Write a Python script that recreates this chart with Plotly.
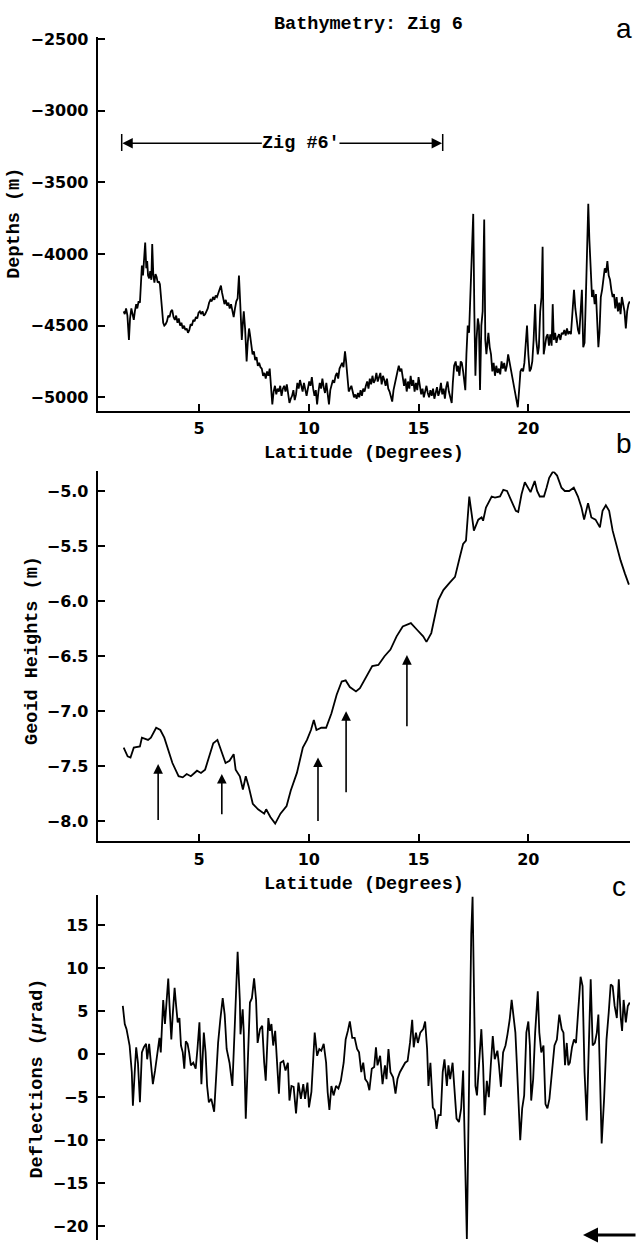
import plotly.graph_objects as go

# ---------------- data ----------------
bathy_lat = [
    1.57, 1.62, 1.68, 1.74, 1.81, 1.86, 1.92, 1.97, 2.03, 2.08,
    2.14, 2.19, 2.25, 2.31, 2.36, 2.40, 2.45, 2.50, 2.55, 2.60,
    2.64, 2.68, 2.73, 2.78, 2.83, 2.87, 2.92, 2.97, 3.02, 3.07,
    3.12, 3.17, 3.22, 3.27, 3.32, 3.37, 3.42, 3.48, 3.54, 3.60,
    3.66, 3.72, 3.78, 3.84, 3.90, 3.96, 4.02, 4.08, 4.14, 4.20,
    4.26, 4.32, 4.38, 4.44, 4.50, 4.56, 4.62, 4.68, 4.74, 4.80,
    4.86, 4.92, 4.98, 5.04, 5.10, 5.16, 5.22, 5.28, 5.34, 5.40,
    5.46, 5.52, 5.58, 5.64, 5.70, 5.76, 5.82, 5.88, 5.94, 6.00,
    6.05, 6.10, 6.16, 6.22, 6.28, 6.34, 6.40, 6.46, 6.52, 6.58,
    6.64, 6.70, 6.76, 6.82, 6.88, 6.95, 7.00, 7.04, 7.10, 7.17,
    7.22, 7.28, 7.32, 7.38, 7.44, 7.50, 7.56, 7.62, 7.68, 7.74,
    7.80, 7.86, 7.92, 7.98, 8.04, 8.10, 8.16, 8.22, 8.28, 8.34,
    8.40, 8.46, 8.52, 8.58, 8.64, 8.70, 8.76, 8.82, 8.88, 8.94,
    9.00, 9.06, 9.12, 9.18, 9.24, 9.30, 9.36, 9.42, 9.48, 9.54,
    9.60, 9.66, 9.72, 9.78, 9.84, 9.90, 9.96, 10.02, 10.08, 10.14,
    10.20, 10.26, 10.32, 10.38, 10.44, 10.50, 10.56, 10.62, 10.68, 10.74,
    10.80, 10.86, 10.92, 10.98, 11.04, 11.10, 11.16, 11.22, 11.28, 11.34,
    11.40, 11.46, 11.52, 11.58, 11.65, 11.70, 11.76, 11.82, 11.88, 11.94,
    12.00, 12.06, 12.12, 12.18, 12.24, 12.30, 12.36, 12.42, 12.48, 12.54,
    12.60, 12.66, 12.72, 12.78, 12.84, 12.90, 12.96, 13.02, 13.08, 13.14,
    13.20, 13.26, 13.32, 13.38, 13.44, 13.50, 13.56, 13.62, 13.68, 13.74,
    13.80, 13.86, 13.92, 13.98, 14.04, 14.10, 14.16, 14.22, 14.28, 14.34,
    14.40, 14.46, 14.52, 14.58, 14.64, 14.70, 14.76, 14.82, 14.88, 14.94,
    15.00, 15.06, 15.12, 15.18, 15.24, 15.30, 15.36, 15.42, 15.48, 15.54,
    15.60, 15.66, 15.72, 15.78, 15.84, 15.90, 15.96, 16.02, 16.08, 16.14,
    16.20, 16.26, 16.32, 16.38, 16.44, 16.51, 16.56, 16.62, 16.69, 16.75,
    16.80, 16.86, 16.92, 16.97, 17.03, 17.08, 17.13, 17.18, 17.24, 17.30,
    17.36, 17.42, 17.49, 17.54, 17.59, 17.64, 17.70, 17.75, 17.80, 17.86,
    17.92, 17.99, 18.04, 18.09, 18.14, 18.18, 18.24, 18.30, 18.36, 18.42,
    18.48, 18.54, 18.60, 18.66, 18.72, 18.78, 18.84, 18.90, 18.96, 19.02,
    19.08, 19.14, 19.20, 19.26, 19.32, 19.38, 19.44, 19.52, 19.58, 19.64,
    19.70, 19.76, 19.82, 19.88, 19.94, 20.00, 20.06, 20.12, 20.18, 20.24,
    20.31, 20.36, 20.43, 20.48, 20.54, 20.60, 20.65, 20.70, 20.76, 20.82,
    20.88, 20.94, 21.00, 21.06, 21.11, 21.16, 21.22, 21.28, 21.34, 21.40,
    21.46, 21.52, 21.58, 21.64, 21.70, 21.76, 21.82, 21.88, 21.94, 22.00,
    22.08, 22.14, 22.20, 22.26, 22.32, 22.38, 22.44, 22.50, 22.56, 22.62,
    22.68, 22.73, 22.78, 22.84, 22.90, 22.96, 23.02, 23.08, 23.14, 23.19,
    23.24, 23.30, 23.36, 23.42, 23.48, 23.54, 23.60, 23.66, 23.72, 23.78,
    23.84, 23.90, 23.96, 24.02, 24.08, 24.14, 24.20, 24.26, 24.32, 24.38,
    24.44, 24.50, 24.56, 24.62,
]
bathy_depth = [
    -4400, -4420, -4380, -4430, -4600, -4450, -4380, -4420, -4460, -4400,
    -4350, -4380, -4330, -4340, -4180, -4080, -4150, -4000, -3920, -4100,
    -4050, -4150, -4170, -4120, -4180, -3930, -4150, -4200, -4140, -4160,
    -4200, -4190, -4210, -4300, -4370, -4480, -4500, -4490, -4470, -4430,
    -4440, -4400, -4390, -4440, -4460, -4430, -4480, -4450, -4500, -4480,
    -4520, -4500, -4530, -4520, -4550, -4530, -4490, -4500, -4460, -4470,
    -4440, -4450, -4410, -4400, -4420, -4400, -4430, -4420, -4400, -4380,
    -4340, -4320, -4330, -4300, -4320, -4290, -4300, -4270, -4250, -4220,
    -4270, -4300, -4350, -4320, -4360, -4340, -4380, -4350, -4400, -4440,
    -4380, -4330, -4310, -4150, -4350, -4600, -4480, -4400, -4520, -4750,
    -4620, -4520, -4560, -4620, -4700, -4680, -4740, -4720, -4780, -4760,
    -4790, -4800, -4850, -4830, -4870, -4820, -4850, -4800, -4900, -5050,
    -4960, -4920, -4980, -4940, -4960, -4920, -4990, -4940, -4920, -4960,
    -4910, -4980, -5040, -5010, -4990, -4950, -5020, -4980, -4900, -4940,
    -4880, -4920, -4960, -4900, -4950, -4990, -4940, -4890, -4920, -4860,
    -4940, -4990, -4950, -5050, -4960, -4900, -4940, -4870, -4930, -4970,
    -4900, -4960, -5050, -4950, -4920, -4880, -4900, -4850, -4830, -4870,
    -4800, -4780, -4760, -4790, -4680, -4750, -4880, -4960, -4940, -4920,
    -4960, -5000, -4980, -5010, -4970, -5000, -4950, -4990, -4940, -4960,
    -4920, -4890, -4940, -4870, -4910, -4850, -4900, -4880, -4830, -4890,
    -4860, -4830, -4910, -4850, -4880, -4920, -4870, -4940, -4960, -4990,
    -5030, -4950, -4900, -4870, -4820, -4780, -4820, -4800, -4880, -4920,
    -4870, -4960, -4890, -4940, -4850, -4920, -4880, -4960, -4900, -4950,
    -4860, -4920, -4980, -4940, -5000, -4960, -4920, -4970, -5000, -4950,
    -4990, -4940, -5010, -4970, -4930, -4990, -4960, -4900, -4980, -4940,
    -5010, -4930, -4890, -4960, -5000, -5040, -4900, -4780, -4750, -4820,
    -4780, -4850, -4750, -4760, -4820, -4870, -4950, -4700, -4500, -4550,
    -4300, -4000, -3720, -4400, -4850, -4600, -4450, -4500, -4950, -4500,
    -4400, -3760, -4600, -4700, -4620, -4550, -4650, -4700, -4820, -4760,
    -4850, -4780, -4830, -4800, -4840, -4750, -4800, -4760, -4820, -4780,
    -4700, -4750, -4820, -4850, -4920, -4960, -5000, -5070, -4950, -4820,
    -4800, -4820, -4760, -4650, -4500, -4700, -4820, -4800, -4750, -4600,
    -4350, -4600, -4700, -4650, -4400, -4300, -3950, -4700, -4620, -4580,
    -4560, -4640, -4560, -4640, -4350, -4600, -4550, -4620, -4580, -4560,
    -4600, -4550, -4560, -4530, -4570, -4520, -4560, -4540, -4560, -4450,
    -4250, -4380, -4480, -4530, -4560, -4420, -4250, -4650, -4620, -4300,
    -4000, -3650, -3900, -4150, -4300, -4250, -4350, -4280, -4450, -4650,
    -4550, -4300, -4250, -4150, -4100, -4130, -4050, -4150, -4180, -4250,
    -4300, -4280, -4380, -4300, -4400, -4340, -4420, -4300, -4350, -4400,
    -4520, -4400, -4350, -4330,
]

geoid_lat = [
    1.57, 1.75, 1.88, 2.03, 2.31, 2.40, 2.68, 2.81, 3.05, 3.24,
    3.42, 3.66, 3.79, 4.07, 4.26, 4.44, 4.63, 4.91, 5.09, 5.28,
    5.46, 5.65, 5.84, 6.02, 6.21, 6.39, 6.58, 6.67, 6.86, 7.00,
    7.13, 7.26, 7.45, 7.69, 7.97, 8.06, 8.25, 8.47, 8.71, 8.99,
    9.18, 9.46, 9.73, 9.92, 10.10, 10.23, 10.35, 10.57, 10.79, 11.03,
    11.27, 11.50, 11.68, 11.87, 12.15, 12.33, 12.61, 12.89, 13.17, 13.45,
    13.72, 14.00, 14.28, 14.65, 14.93, 15.21, 15.36, 15.58, 15.90, 16.13,
    16.43, 16.66, 16.88, 17.03, 17.16, 17.31, 17.42, 17.52, 17.72, 17.87,
    17.94, 18.07, 18.33, 18.48, 18.71, 18.86, 19.03, 19.24, 19.43, 19.54,
    19.69, 19.84, 19.99, 20.10, 20.29, 20.40, 20.52, 20.71, 20.83, 20.95,
    21.13, 21.31, 21.51, 21.66, 21.86, 22.07, 22.26, 22.42, 22.54, 22.72,
    22.87, 23.06, 23.26, 23.38, 23.53, 23.68, 23.84, 24.02, 24.20, 24.40,
    24.58,
]
geoid_h = [
    -7.33, -7.41, -7.42, -7.33, -7.32, -7.24, -7.26, -7.24, -7.15, -7.17,
    -7.24, -7.39, -7.47, -7.59, -7.60, -7.57, -7.59, -7.54, -7.56, -7.53,
    -7.42, -7.29, -7.26, -7.36, -7.47, -7.45, -7.39, -7.53, -7.59, -7.71,
    -7.59, -7.68, -7.84, -7.89, -7.93, -7.89, -7.96, -8.02, -7.93, -7.86,
    -7.72, -7.56, -7.33, -7.26, -7.17, -7.08, -7.17, -7.15, -7.15, -7.02,
    -6.85, -6.73, -6.72, -6.78, -6.82, -6.79, -6.69, -6.59, -6.58, -6.50,
    -6.44, -6.32, -6.23, -6.20, -6.26, -6.32, -6.37, -6.29, -5.99, -5.90,
    -5.83, -5.78, -5.60, -5.48, -5.45, -5.05, -5.21, -5.36, -5.26, -5.24,
    -5.27, -5.15, -5.05, -5.06, -5.05, -4.99, -5.00, -5.09, -5.18, -5.19,
    -5.03, -4.92, -4.97, -5.01, -4.91, -5.00, -5.05, -5.05, -4.97, -4.88,
    -4.82, -4.86, -4.97, -5.00, -5.00, -4.97, -5.05, -5.15, -5.26, -5.11,
    -5.24, -5.26, -5.33, -5.18, -5.13, -5.18, -5.36, -5.50, -5.63, -5.75,
    -5.85,
]

defl_lat = [
    1.53, 1.62, 1.70, 1.77, 1.84, 1.94, 1.99, 2.09, 2.14, 2.22,
    2.31, 2.40, 2.49, 2.59, 2.64, 2.73, 2.81, 2.90, 3.00, 3.11,
    3.20, 3.26, 3.37, 3.45, 3.52, 3.60, 3.66, 3.74, 3.81, 3.89,
    3.96, 4.03, 4.11, 4.18, 4.26, 4.33, 4.40, 4.48, 4.55, 4.63,
    4.74, 4.85, 4.93, 5.02, 5.11, 5.22, 5.30, 5.37, 5.45, 5.56,
    5.69, 5.76, 5.87, 5.97, 6.08, 6.17, 6.26, 6.39, 6.52, 6.63,
    6.76, 6.86, 6.89, 6.99, 7.04, 7.13, 7.22, 7.32, 7.41, 7.51,
    7.60, 7.67, 7.78, 7.88, 7.97, 8.04, 8.16, 8.23, 8.30, 8.38,
    8.47, 8.56, 8.64, 8.71, 8.84, 8.94, 9.05, 9.12, 9.21, 9.31,
    9.42, 9.53, 9.64, 9.75, 9.83, 9.94, 10.01, 10.12, 10.20, 10.27,
    10.38, 10.48, 10.57, 10.68, 10.79, 10.86, 10.94, 11.03, 11.13, 11.24,
    11.35, 11.46, 11.59, 11.68, 11.78, 11.87, 11.98, 12.09, 12.20, 12.29,
    12.39, 12.48, 12.57, 12.68, 12.76, 12.87, 12.98, 13.06, 13.13, 13.25,
    13.36, 13.47, 13.54, 13.63, 13.72, 13.84, 13.95, 14.04, 14.15, 14.28,
    14.39, 14.50, 14.61, 14.71, 14.78, 14.88, 14.97, 15.08, 15.21, 15.30,
    15.39, 15.45, 15.54, 15.65, 15.73, 15.82, 15.91, 16.01, 16.10, 16.18,
    16.29, 16.36, 16.44, 16.55, 16.66, 16.73, 16.84, 16.94, 17.03, 17.10,
    17.20, 17.29, 17.34, 17.40, 17.46, 17.51, 17.59, 17.66, 17.75, 17.86,
    17.94, 18.01, 18.11, 18.20, 18.29, 18.38, 18.47, 18.59, 18.66, 18.75,
    18.85, 18.96, 19.05, 19.15, 19.24, 19.33, 19.41, 19.48, 19.56, 19.63,
    19.72, 19.81, 19.91, 20.00, 20.07, 20.13, 20.22, 20.31, 20.43, 20.50,
    20.59, 20.69, 20.78, 20.87, 20.96, 21.07, 21.19, 21.30, 21.41, 21.52,
    21.60, 21.67, 21.75, 21.82, 21.89, 21.99, 22.08, 22.17, 22.27, 22.38,
    22.47, 22.56, 22.66, 22.75, 22.84, 22.93, 23.03, 23.12, 23.19, 23.27,
    23.34, 23.45, 23.56, 23.66, 23.75, 23.84, 23.93, 24.03, 24.12, 24.21,
    24.27, 24.34, 24.44, 24.53, 24.62,
]
defl_val = [
    5.6, 3.5, 2.9, 1.9, 1.0, -2.1, -6.0, -1.3, 0.8, -1.0,
    -5.6, 0.2, 0.8, 1.2, -0.6, 1.2, -1.3, -3.5, -1.9, 0.0,
    1.9, 0.2, 6.3, 3.5, 5.6, 8.8, 5.6, 1.7, 4.8, 7.7,
    5.6, 3.7, 4.2, 1.0, 0.2, -1.7, 1.5, 1.2, 0.2, -1.3,
    -1.0, -1.7, 0.6, 3.7, -3.5, 2.5, 0.2, -3.7, -5.6, -5.2,
    -6.7, -2.9, 1.3, 4.0, 6.5, 4.6, 0.6, -1.0, -3.7, 3.3,
    11.9, 6.3, 2.3, 5.2, 2.5, -7.5, -0.6, 6.0, 6.5, 8.8,
    6.3, 1.3, 2.9, 3.3, -1.0, -3.1, 4.2, 2.7, 3.5, 1.0,
    2.7, -1.0, -4.6, -1.0, -0.8, -1.9, -1.0, -5.4, -3.7, -3.8,
    -6.9, -3.3, -5.2, -3.5, -5.2, -3.3, -6.2, -4.4, -1.3, 2.5,
    -0.2, 0.6, 0.4, 1.2, -1.0, -4.4, -6.5, -3.7, -4.8, -3.7,
    -4.0, -3.1, -1.0, 1.7, 2.7, 3.8, 1.9, 1.9, 0.6, 0.2,
    -2.1, -1.0, -2.9, -3.3, -4.2, -1.7, -1.5, 0.8, -1.3, -0.2,
    -3.5, -1.3, -2.9, 0.6, -2.1, -2.7, -4.6, -2.9, -2.1, -1.5,
    -1.0, -0.8, 1.3, 4.0, 0.8, 2.5, 1.3, 2.5, 2.9, 3.8,
    0.6, -3.7, -1.0, -6.2, -6.5, -8.7, -7.1, -7.1, -2.1, -0.6,
    -3.7, -1.3, -2.9, -1.0, -4.8, -7.5, -7.9, -6.3, -1.9, -9.0,
    -21.5, -5.2, 6.3, 14.0, 18.3, 11.0, -3.7, -4.8, -1.3, 2.9,
    -1.3, -7.1, -3.1, -5.0, -1.3, 2.1, -0.6, 0.4, -1.2, -3.8,
    0.2, 1.0, 2.3, 4.0, 6.3, 4.4, 2.5, -1.3, -6.3, -10.0,
    -6.3, -4.8, 2.5, 3.8, 1.0, -5.4, -2.9, 2.5, 7.3, 2.5,
    0.2, 1.0, -5.8, -6.3, -5.2, -2.1, 1.0, 1.7, 4.6, 2.9,
    2.5, -1.3, 1.3, -1.3, -1.0, 0.8, 1.7, 1.3, 5.2, 9.0,
    7.9, -2.1, -7.7, 1.7, 8.7, 1.0, 1.3, 2.5, 4.6, -3.3,
    -10.4, -5.2, 1.7, 4.8, 8.1, 7.9, 5.6, 4.2, 8.7, 4.2,
    2.7, 6.3, 3.7, 5.6, 6.0,
]

lat_ticks = [5, 10, 15, 20]
depth_ticks = [-5000, -4500, -4000, -3500, -3000, -2500]
geoid_ticks = [-8.0, -7.5, -7.0, -6.5, -6.0, -5.5, -5.0]
defl_ticks = [-20, -15, -10, -5, 0, 5, 10, 15]

# arrows marked on the geoid panel: latitude, tail value, head value
geoid_arrow_lat = [3.14, 6.04, 10.42, 11.70, 14.47]
geoid_arrow_tail = [-8.00, -7.95, -8.01, -7.75, -7.15]
geoid_arrow_head = [-7.48, -7.57, -7.42, -7.00, -6.49]

# ---------------- layout helpers ----------------
W, H = 637, 1253


def px(x):
    return x / W


def py(y):
    return (H - y) / H


MONO = dict(family="Liberation Mono", size=18.5, color="black", weight="bold")
TICKF = dict(family="DejaVu Sans", size=16, color="black", weight="bold")
LET = dict(family="Liberation Sans", size=28, color="black")

XDOM = [px(97.7), px(630)]
XRANGE = [0.387, 24.63]

fig = go.Figure()
line = dict(color="black", width=1.8)
fig.add_trace(go.Scatter(x=bathy_lat, y=bathy_depth, mode="lines", line=line,
                         xaxis="x", yaxis="y", showlegend=False, hoverinfo="skip"))
fig.add_trace(go.Scatter(x=geoid_lat, y=geoid_h, mode="lines", line=line,
                         xaxis="x2", yaxis="y2", showlegend=False, hoverinfo="skip"))
fig.add_trace(go.Scatter(x=defl_lat, y=defl_val, mode="lines", line=line,
                         xaxis="x3", yaxis="y3", showlegend=False, hoverinfo="skip"))

axis_common = dict(showline=True, linecolor="black", linewidth=2, ticks="inside",
                   ticklen=7, tickwidth=2, tickcolor="black", showgrid=False,
                   zeroline=False, tickfont=TICKF, mirror=False)

fig.update_layout(
    width=W, height=H, autosize=False,
    margin=dict(l=0, r=0, t=0, b=0, pad=0),
    paper_bgcolor="white", plot_bgcolor="white",
    xaxis=dict(domain=XDOM, range=XRANGE, tickvals=lat_ticks, anchor="y",
               ticklabelstandoff=2, **axis_common),
    yaxis=dict(domain=[py(406), py(30)], range=[-5094, -2484], tickvals=depth_ticks,
               anchor="x", ticklabelstandoff=4, **axis_common),
    xaxis2=dict(domain=XDOM, range=XRANGE, tickvals=lat_ticks, anchor="y2",
                ticklabelstandoff=2, **axis_common),
    yaxis2=dict(domain=[py(839), py(467)], range=[-8.181, -4.822], tickvals=geoid_ticks,
                tickformat=".1f", anchor="x2", ticklabelstandoff=4, **axis_common),
    xaxis3=dict(domain=XDOM, range=XRANGE, anchor="y3", showline=False,
                showticklabels=False, ticks="", showgrid=False, zeroline=False),
    yaxis3=dict(domain=[py(1240), py(893)], range=[-21.62, 18.50], tickvals=defl_ticks,
                anchor="x3", ticklabelstandoff=4, **axis_common),
)

ann = []
# titles and axis labels
ann.append(dict(text="Bathymetry: Zig 6", x=px(368), y=py(18), xref="paper", yref="paper",
                showarrow=False, font=MONO, xanchor="center", yanchor="middle"))
ann.append(dict(text="Latitude (Degrees)", x=px(364), y=py(449), xref="paper", yref="paper",
                showarrow=False, font=MONO, xanchor="center", yanchor="middle"))
ann.append(dict(text="Latitude (Degrees)", x=px(364), y=py(882), xref="paper", yref="paper",
                showarrow=False, font=MONO, xanchor="center", yanchor="middle"))
ann.append(dict(text="Depths (m)", x=px(15), y=py(218), xref="paper", yref="paper",
                showarrow=False, font=MONO, textangle=-90, xanchor="center", yanchor="middle"))
ann.append(dict(text="Geoid Heights (m)", x=px(32.5), y=py(647), xref="paper", yref="paper",
                showarrow=False, font=MONO, textangle=-90, xanchor="center", yanchor="middle"))
ann.append(dict(text="Deflections (<i>μ</i>rad)", x=px(37.5), y=py(1078), xref="paper",
                yref="paper", showarrow=False, font=MONO, textangle=-90,
                xanchor="center", yanchor="middle"))
# panel letters
for letter, lx, ly in [("a", 623.5, 22), ("b", 624, 439), ("c", 619, 884)]:
    ann.append(dict(text=letter, x=px(lx), y=py(ly), xref="paper", yref="paper",
                    showarrow=False, font=LET, xanchor="center", yanchor="middle"))

# "Zig #6'" span marker on panel a
ann.append(dict(text="Zig #6′", x=9.66, y=-3227, xref="x", yref="y", showarrow=False,
                font=MONO, xanchor="center", yanchor="middle"))
ann.append(dict(text="", x=1.51, y=-3227, ax=7.93, ay=-3227, xref="x", yref="y",
                axref="x", ayref="y", showarrow=True, arrowhead=2, arrowsize=1.3,
                arrowwidth=1.6, arrowcolor="black", standoff=0, startstandoff=0))
ann.append(dict(text="", x=16.07, y=-3227, ax=11.33, ay=-3227, xref="x", yref="y",
                axref="x", ayref="y", showarrow=True, arrowhead=2, arrowsize=1.3,
                arrowwidth=1.6, arrowcolor="black", standoff=0, startstandoff=0))

# arrows on panel b
for xa, yt, yh in zip(geoid_arrow_lat, geoid_arrow_tail, geoid_arrow_head):
    ann.append(dict(text="", x=xa, y=yh, ax=xa, ay=yt, xref="x2", yref="y2",
                    axref="x2", ayref="y2", showarrow=True, arrowhead=2, arrowsize=1.2,
                    arrowwidth=1.6, arrowcolor="black", standoff=0))

# arrow at bottom right
ann.append(dict(text="", x=px(583), y=py(1235), xref="paper", yref="paper",
                ax=56, ay=0, axref="pixel", ayref="pixel", showarrow=True,
                arrowhead=2, arrowsize=1.0, arrowwidth=3, arrowcolor="black", standoff=0))

fig.update_layout(annotations=ann)

shapes = []
for xb in [1.48, 16.10]:
    shapes.append(dict(type="line", xref="x", yref="y", x0=xb, x1=xb, y0=-3163, y1=-3281,
                       line=dict(color="black", width=1.5)))
fig.update_layout(shapes=shapes)

fig.write_html("out.html")
